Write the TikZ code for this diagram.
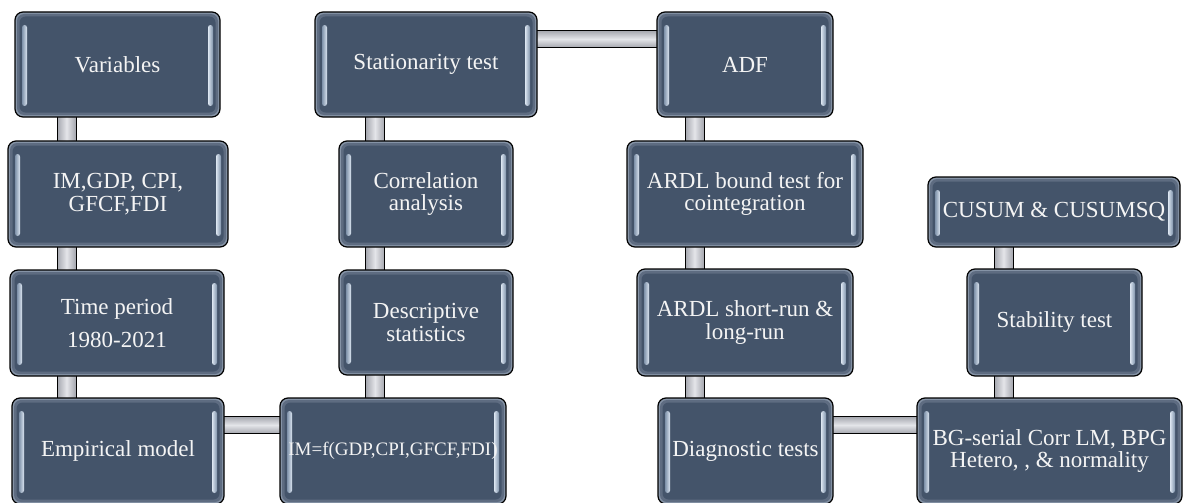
\documentclass[tikz,border=0pt]{standalone}
\usepackage{fontspec}
\setmainfont{Liberation Serif}
\usetikzlibrary{calc}
\pgfdeclarelayer{bars}
\pgfsetlayers{bars,main}

\definecolor{slate}{HTML}{44546A}
\definecolor{glowouter}{HTML}{8593A6}
\definecolor{glowmid}{HTML}{5E6C81}
\definecolor{gloss}{HTML}{DCE6F1}
\definecolor{glossdark}{HTML}{7F92AA}
\definecolor{textwhite}{HTML}{F4F4F4}
\definecolor{barlight}{HTML}{E4E5E9}
\definecolor{bardark}{HTML}{A4A6AE}

\tikzset{
  stepbox/.style={
    shape=rectangle, rounded corners=8pt, draw=black, line width=1.2pt,
    fill=glowouter, text=textwhite, align=center, inner sep=0pt,
    font=\fontsize{23}{22.5}\selectfont,
    path picture={
      \coordinate (nw) at (path picture bounding box.north west);
      \coordinate (se) at (path picture bounding box.south east);
      \coordinate (ne) at (se |- nw);
      \coordinate (sw) at (nw |- se);
      \path[draw=none, fill=glowmid, rounded corners=7pt]
        ($(nw)+(2pt,-2pt)$) rectangle ($(se)+(-2pt,2pt)$);
      \path[draw=none, fill=slate, rounded corners=6pt]
        ($(nw)+(4.5pt,-4.5pt)$) rectangle ($(se)+(-4.5pt,4.5pt)$);
      % glossy edge highlights
      \shade[draw=none, left color=glossdark, right color=gloss, rounded corners=2.5pt]
        ($(nw)+(7pt,-13pt)$) rectangle ($(sw)+(12pt,11pt)$);
      \shade[draw=none, left color=gloss, right color=glossdark, rounded corners=2.5pt]
        ($(ne)+(-12pt,-13pt)$) rectangle ($(se)+(-7pt,11pt)$);
    }
  },
  vbar/.style={draw=black, line width=1pt,
    left color=bardark, right color=bardark, middle color=barlight},
  hbar/.style={draw=black, line width=1pt,
    top color=bardark, bottom color=bardark, middle color=barlight},
}

\begin{document}
\begin{tikzpicture}[x=1pt, y=-1pt]
\useasboundingbox (0,0) rectangle (1184,503);

% column 1
\node[stepbox, minimum width=205pt, minimum height=105pt] (var)   at (117.5,64.5) {Variables};
\node[stepbox, minimum width=220pt, minimum height=106pt] (imgdp) at (118,194)    {IM,GDP, CPI,\\GFCF,FDI};
\node[stepbox, minimum width=214pt, minimum height=106pt] (time)  at (117,323)    {Time period\\[10pt]1980-2021};
\node[stepbox, minimum width=212pt, minimum height=106pt] (emp)   at (118,451)    {Empirical model};

% column 2
\node[stepbox, minimum width=222pt, minimum height=105pt] (stat)  at (426,64.5)   {Stationarity test};
\node[stepbox, minimum width=174pt, minimum height=106pt] (corr)  at (426,194)    {Correlation\\analysis};
\node[stepbox, minimum width=174pt, minimum height=105pt] (desc)  at (426,322.5)  {Descriptive\\statistics};
\node[stepbox, minimum width=226pt, minimum height=106pt, font=\fontsize{19}{19}\selectfont] (imf) at (393,451) {IM=f(GDP,CPI,GFCF,FDI)};

% column 3
\node[stepbox, minimum width=176pt, minimum height=105pt] (adf)   at (745,64.5)   {ADF};
\node[stepbox, minimum width=236pt, minimum height=106pt] (ardlb) at (745,194)    {ARDL bound test for\\cointegration};
\node[stepbox, minimum width=216pt, minimum height=107pt] (ardls) at (745,322.5)  {ARDL short-run \&\\long-run};
\node[stepbox, minimum width=175pt, minimum height=106pt] (diag)  at (745.5,451)  {Diagnostic tests};

% column 4
\node[stepbox, minimum width=252pt, minimum height=70pt]  (cusum) at (1054,212)   {CUSUM \& CUSUMSQ};
\node[stepbox, minimum width=175pt, minimum height=107pt] (stab)  at (1054.5,322.5) {Stability test};
\node[stepbox, minimum width=265pt, minimum height=106pt] (bg)    at (1049.5,451) {BG-serial Corr LM, BPG\\Hetero, , \& normality};

% edges of the connecting bars
\coordinate (c1l) at (57,0);   \coordinate (c1r) at (76,0);
\coordinate (c2l) at (365.5,0);\coordinate (c2r) at (384.5,0);
\coordinate (c3l) at (685,0);  \coordinate (c3r) at (704,0);
\coordinate (c4l) at (994,0);  \coordinate (c4r) at (1013,0);
\coordinate (r1t) at (0,30.5); \coordinate (r1b) at (0,47.5);
\coordinate (r4t) at (0,416.5);\coordinate (r4b) at (0,433.5);

\begin{pgfonlayer}{bars}
  \draw[vbar] (c1l |- var.center)   rectangle (c1r |- imgdp.center);
  \draw[vbar] (c1l |- imgdp.center) rectangle (c1r |- time.center);
  \draw[vbar] (c1l |- time.center)  rectangle (c1r |- emp.center);

  \draw[vbar] (c2l |- stat.center)  rectangle (c2r |- corr.center);
  \draw[vbar] (c2l |- corr.center)  rectangle (c2r |- desc.center);
  \draw[vbar] (c2l |- desc.center)  rectangle (c2r |- imf.center);

  \draw[vbar] (c3l |- adf.center)   rectangle (c3r |- ardlb.center);
  \draw[vbar] (c3l |- ardlb.center) rectangle (c3r |- ardls.center);
  \draw[vbar] (c3l |- ardls.center) rectangle (c3r |- diag.center);

  \draw[vbar] (c4l |- cusum.center) rectangle (c4r |- stab.center);
  \draw[vbar] (c4l |- stab.center)  rectangle (c4r |- bg.center);

  \draw[hbar] (stat.center |- r1t) rectangle (adf.center |- r1b);
  \draw[hbar] (emp.center |- r4t)  rectangle (imf.center |- r4b);
  \draw[hbar] (diag.center |- r4t) rectangle (bg.center |- r4b);
\end{pgfonlayer}
\end{tikzpicture}
\end{document}
